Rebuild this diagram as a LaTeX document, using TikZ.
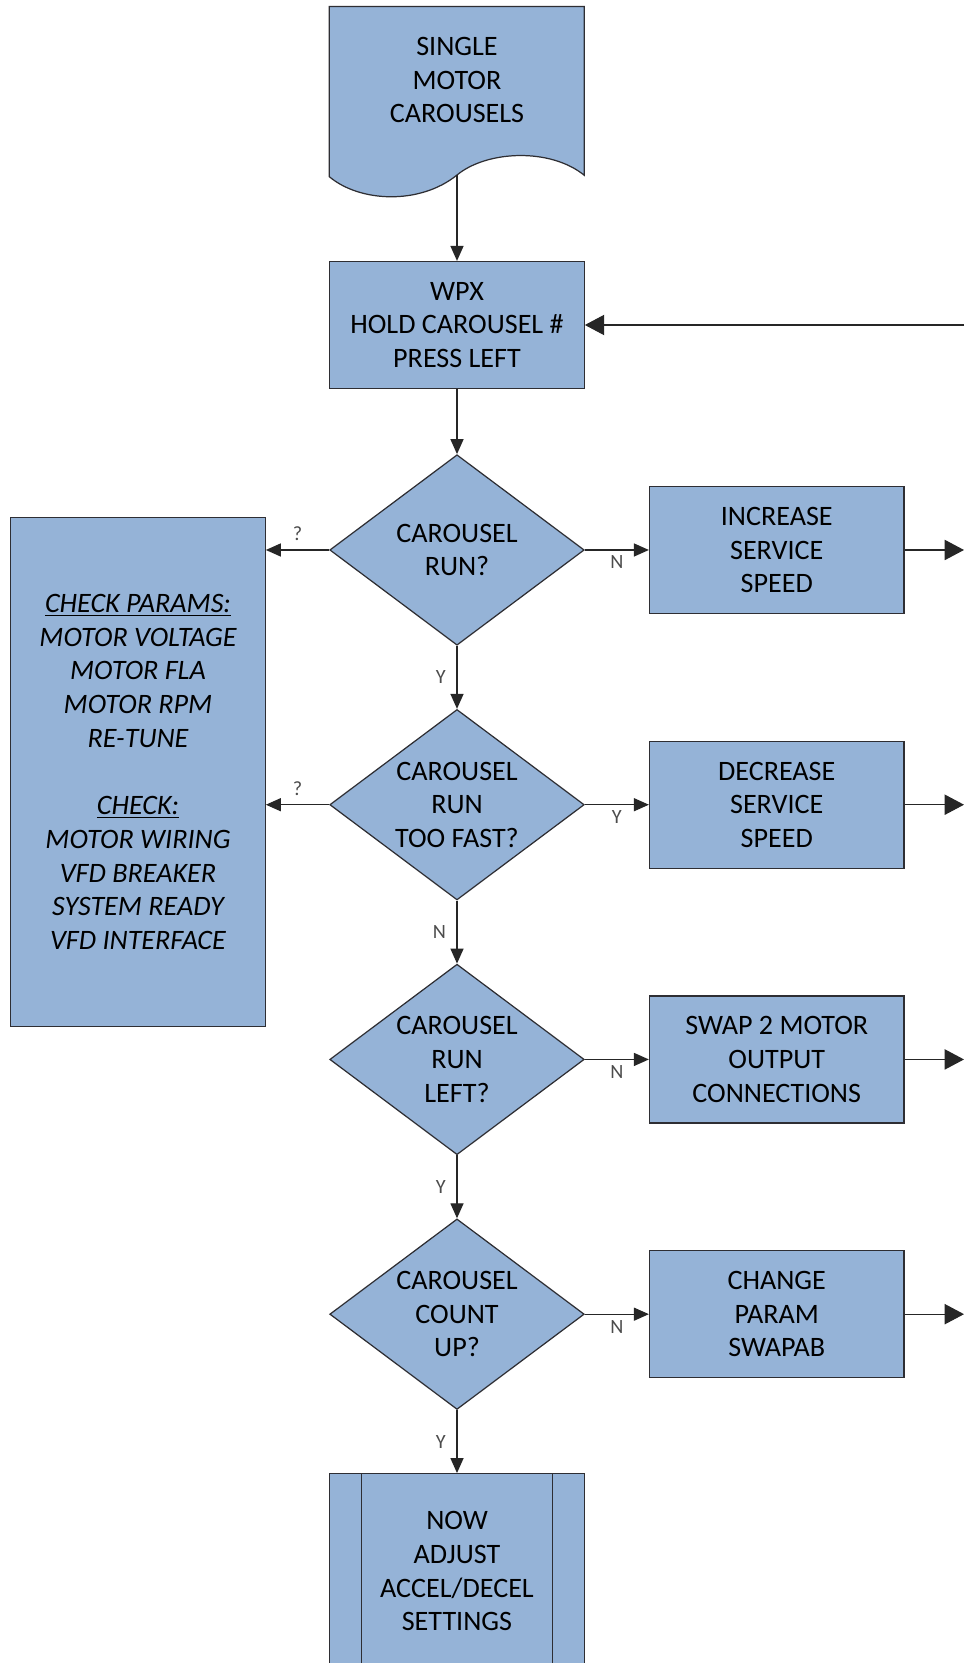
\documentclass[tikz,border=0pt]{standalone}
\usepackage{fontspec}
\setmainfont{Carlito}
\usetikzlibrary{positioning,shapes.geometric,arrows.meta}
\definecolor{shapefill}{HTML}{95B3D7}
\definecolor{shapeline}{HTML}{2E2E33}
\newcommand{\flowfont}{\fontsize{16}{19.2}\selectfont}

\begin{document}
\begin{tikzpicture}[
                node distance=1.26cm,
                proc/.style={rectangle,draw=shapeline,fill=shapefill,line width=0.7pt,
                    minimum width=5.09cm,minimum height=2.54cm,inner sep=0pt,align=center,font=\flowfont},
                ask/.style={diamond,aspect=1.34,draw=shapeline,fill=shapefill,line width=0.7pt,
                    minimum width=5.09cm,minimum height=3.81cm,inner sep=0pt,align=center,font=\flowfont},
                flow/.style={draw=black!85,line width=0.7pt,-{Triangle[length=8.5pt,width=7.4pt]}},
                exitflow/.style={flow,-{Triangle[length=11pt,width=11.5pt]}},
                lbl/.style={font=\fontsize{11.5}{12}\selectfont,text=black!70,inner sep=2pt}
            ]
                \path[use as bounding box,fill=white] (0,0) rectangle (19.28,-33.26);
                % document shape
                \draw[draw=shapeline,fill=shapefill,line width=0.7pt] (6.586,-3.534) -- (6.586,-0.128) -- (11.686,-0.128) -- (11.686,-3.506)
                    .. controls (11.0,-2.95) and (9.734,-3.01) .. (9.14,-3.5)
                    .. controls (8.4,-4.1) and (7.2,-4.05) .. cycle;
                \node (Doc) [align=center,font=\flowfont] at (9.14,-1.6) {SINGLE\\MOTOR\\CAROUSELS};
                \coordinate (DocEnd) at (9.14,-3.5);
                \coordinate (Edge) at (19.28,0);
                \node (Wpx)    [proc] at (9.14,-6.5)              {WPX\\HOLD CAROUSEL \#\\PRESS LEFT};
                \node (Run)    [ask,below=1.3cm of Wpx]           {CAROUSEL\\RUN?};
                \node (Fast)   [ask,below=of Run]                 {CAROUSEL\\RUN\\TOO FAST?};
                \node (Left)   [ask,below=of Fast]                {CAROUSEL\\RUN\\LEFT?};
                \node (Count)  [ask,below=of Left]                {CAROUSEL\\COUNT\\UP?};
                \node (Adjust) [proc,below=of Count,minimum height=3.9cm] {NOW\\ADJUST\\ACCEL/DECEL\\SETTINGS};
                \draw[shapeline,line width=0.7pt] ([xshift=0.64cm]Adjust.north west) -- ([xshift=0.64cm]Adjust.south west);
                \draw[shapeline,line width=0.7pt] ([xshift=-0.64cm]Adjust.north east) -- ([xshift=-0.64cm]Adjust.south east);
                \node (Inc)    [proc,right=1.28cm of Run]         {INCREASE\\SERVICE\\SPEED};
                \node (Dec)    [proc,right=1.28cm of Fast]        {DECREASE\\SERVICE\\SPEED};
                \node (Swap)   [proc,right=1.28cm of Left]        {SWAP 2 MOTOR\\OUTPUT\\CONNECTIONS};
                \node (Chg)    [proc,right=1.28cm of Count]       {CHANGE\\PARAM\\SWAPAB};
                \node (Check)  [proc,minimum height=10.19cm,font=\flowfont\itshape] at (2.76,-15.44)
                    {\underline{CHECK PARAMS:}\\MOTOR VOLTAGE\\MOTOR FLA\\MOTOR RPM\\RE-TUNE\\[19.2pt]\underline{CHECK:}\\MOTOR WIRING\\VFD BREAKER\\SYSTEM READY\\VFD INTERFACE};
                \draw[flow] (DocEnd) -- (Wpx);
                \draw[flow] (Wpx) -- (Run);
                \draw[flow] (Run) -- node[lbl,left=4pt] {Y} (Fast);
                \draw[flow] (Fast) -- node[lbl,left=4pt] {N} (Left);
                \draw[flow] (Left) -- node[lbl,left=4pt] {Y} (Count);
                \draw[flow] (Count) -- node[lbl,left=4pt] {Y} (Adjust);
                \draw[flow] (Run) -- node[lbl,below=1pt] {N} (Inc);
                \draw[flow] (Fast) -- node[lbl,below=1pt] {Y} (Dec);
                \draw[flow] (Left) -- node[lbl,below=1pt] {N} (Swap);
                \draw[flow] (Count) -- node[lbl,below=1pt] {N} (Chg);
                \draw[flow] (Run.west) -- node[lbl,above=3pt] {?} (Run.west -| Check.east);
                \draw[flow] (Fast.west) -- node[lbl,above=3pt] {?} (Fast.west -| Check.east);
                \foreach \n in {Inc,Dec,Swap,Chg}
                    \draw[exitflow] (\n.east) -- (\n.east -| Edge);
                \draw[exitflow] (Wpx.east -| Edge) -- (Wpx.east);
            \end{tikzpicture}
\end{document}
